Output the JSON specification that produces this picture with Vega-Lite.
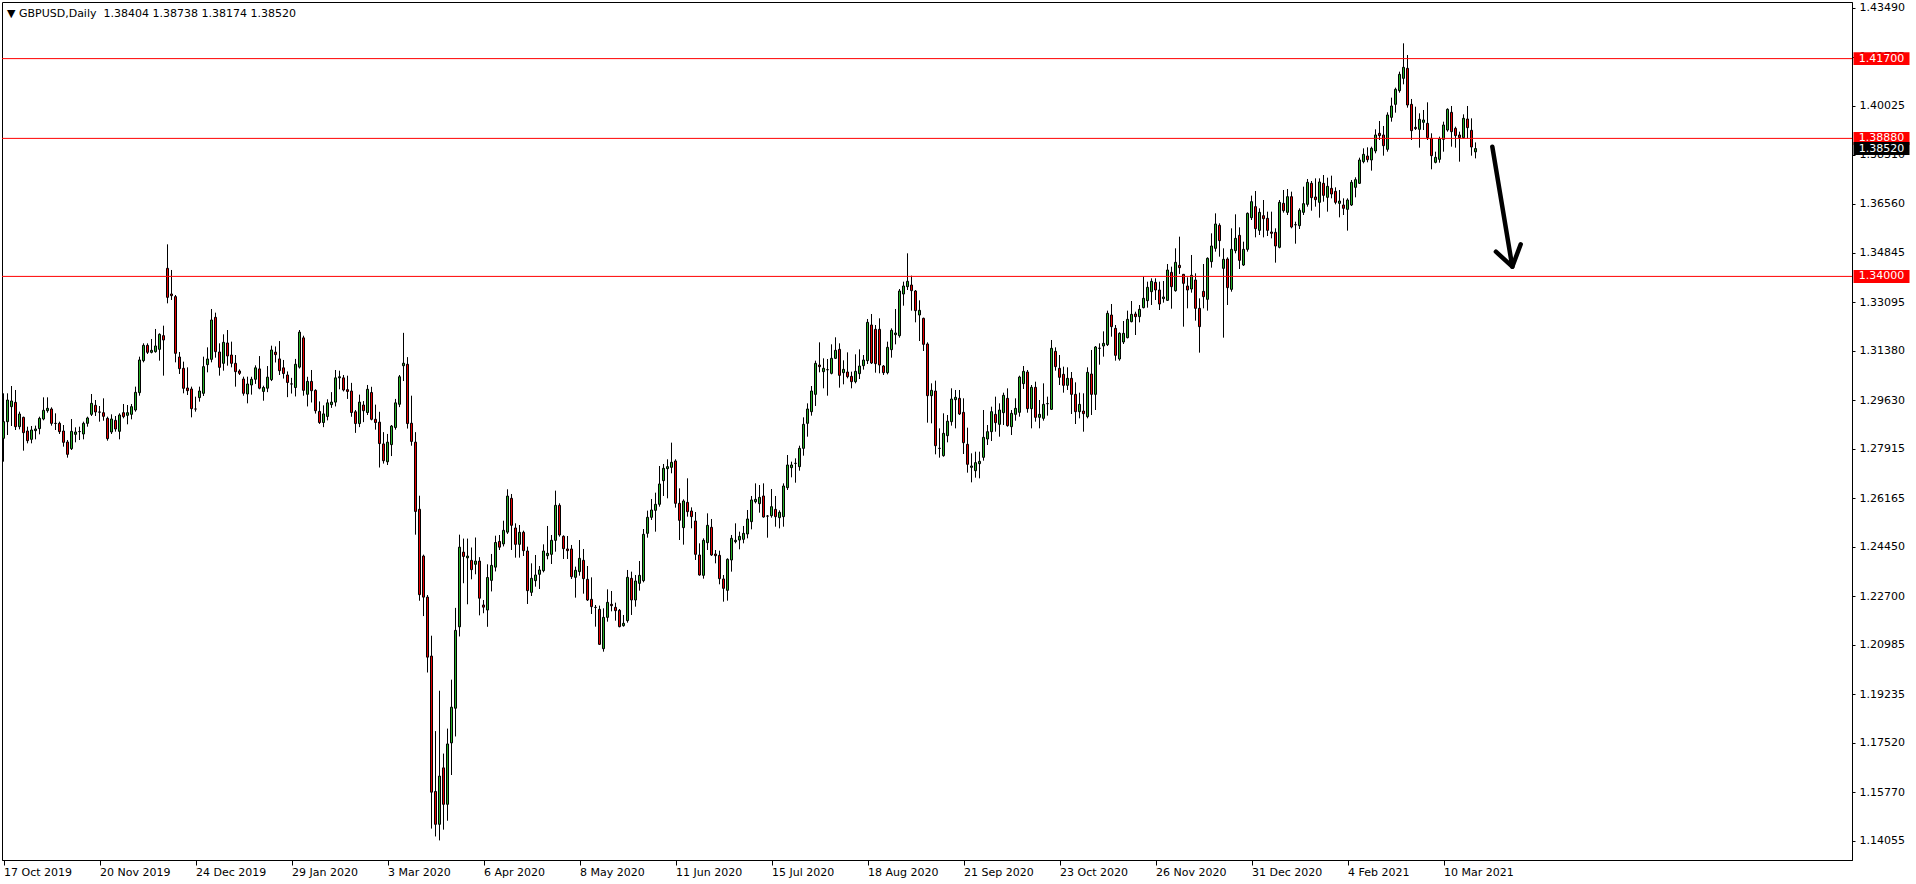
{
"$schema": "https://vega.github.io/schema/vega-lite/v6.json",
"width": 1850, "height": 858,
"autosize": {"type": "none"},
"padding": {"left": 2, "top": 2, "right": 64, "bottom": 24},
"background": "white",
"title": {"text": "▼ GBPUSD,Daily\u00a0 1.38404 1.38738 1.38174 1.38520", "anchor": "start", "frame": "group", "offset": -17, "dx": 5, "fontSize": 11, "font": "DejaVu Sans", "fontWeight": "normal", "color": "black"},
"config": {"view": {"stroke": "black", "strokeWidth": 1}, "font": "DejaVu Sans"},
"datasets": {
"bars": [
{"i":0,"o":1.28275,"h":1.29866,"l":1.2745,"c":1.28864},
{"i":1,"o":1.28864,"h":1.29866,"l":1.28393,"c":1.2963},
{"i":2,"o":1.29394,"h":1.30125,"l":1.28711,"c":1.29595},
{"i":3,"o":1.29548,"h":1.29984,"l":1.28569,"c":1.28687},
{"i":4,"o":1.28687,"h":1.29218,"l":1.28593,"c":1.29135},
{"i":5,"o":1.29017,"h":1.29041,"l":1.27839,"c":1.28475},
{"i":6,"o":1.28534,"h":1.28687,"l":1.28098,"c":1.28192},
{"i":7,"o":1.28239,"h":1.28711,"l":1.28098,"c":1.28569},
{"i":8,"o":1.28546,"h":1.28723,"l":1.28239,"c":1.28605},
{"i":9,"o":1.28617,"h":1.29041,"l":1.28416,"c":1.28982},
{"i":10,"o":1.28958,"h":1.29724,"l":1.28911,"c":1.29265},
{"i":11,"o":1.29253,"h":1.29724,"l":1.29182,"c":1.29336},
{"i":12,"o":1.29312,"h":1.29371,"l":1.28723,"c":1.28805},
{"i":13,"o":1.28805,"h":1.29159,"l":1.28569,"c":1.288},
{"i":14,"o":1.28805,"h":1.28864,"l":1.28428,"c":1.28511},
{"i":15,"o":1.28534,"h":1.28746,"l":1.2798,"c":1.28133},
{"i":16,"o":1.28145,"h":1.28216,"l":1.27591,"c":1.27709},
{"i":17,"o":1.27909,"h":1.28958,"l":1.27862,"c":1.28522},
{"i":18,"o":1.28416,"h":1.28664,"l":1.28133,"c":1.28499},
{"i":19,"o":1.28511,"h":1.28687,"l":1.28216,"c":1.28515},
{"i":20,"o":1.28428,"h":1.28864,"l":1.28239,"c":1.28805},
{"i":21,"o":1.28805,"h":1.29041,"l":1.28687,"c":1.28994},
{"i":22,"o":1.29123,"h":1.29842,"l":1.29064,"c":1.29512},
{"i":23,"o":1.29442,"h":1.2963,"l":1.29064,"c":1.29206},
{"i":24,"o":1.29206,"h":1.29418,"l":1.28864,"c":1.292},
{"i":25,"o":1.29182,"h":1.29689,"l":1.28899,"c":1.29053},
{"i":26,"o":1.28982,"h":1.29041,"l":1.28192,"c":1.28263},
{"i":27,"o":1.28499,"h":1.29123,"l":1.28428,"c":1.28958},
{"i":28,"o":1.28911,"h":1.29064,"l":1.28511,"c":1.28605},
{"i":29,"o":1.28522,"h":1.29159,"l":1.28239,"c":1.291},
{"i":30,"o":1.29182,"h":1.29489,"l":1.28982,"c":1.29041},
{"i":31,"o":1.29088,"h":1.29453,"l":1.2877,"c":1.29182},
{"i":32,"o":1.29123,"h":1.29489,"l":1.28947,"c":1.29394},
{"i":33,"o":1.29277,"h":1.30102,"l":1.29218,"c":1.29901},
{"i":34,"o":1.29889,"h":1.31162,"l":1.29783,"c":1.31045},
{"i":35,"o":1.31021,"h":1.31634,"l":1.30962,"c":1.31563},
{"i":36,"o":1.31563,"h":1.31634,"l":1.31257,"c":1.31316},
{"i":37,"o":1.31316,"h":1.31787,"l":1.3128,"c":1.31386},
{"i":38,"o":1.31339,"h":1.32141,"l":1.31304,"c":1.3154},
{"i":39,"o":1.31422,"h":1.31987,"l":1.31021,"c":1.31952},
{"i":40,"o":1.31905,"h":1.32258,"l":1.30491,"c":1.31752},
{"i":41,"o":1.34286,"h":1.35134,"l":1.33048,"c":1.3326},
{"i":42,"o":1.33378,"h":1.34227,"l":1.33166,"c":1.33319},
{"i":43,"o":1.33284,"h":1.33343,"l":1.30962,"c":1.3128},
{"i":44,"o":1.3115,"h":1.31327,"l":1.3055,"c":1.30738},
{"i":45,"o":1.3075,"h":1.30986,"l":1.29866,"c":1.30043},
{"i":46,"o":1.30055,"h":1.30785,"l":1.29807,"c":1.2996},
{"i":47,"o":1.30019,"h":1.30102,"l":1.29017,"c":1.29324},
{"i":48,"o":1.29312,"h":1.29748,"l":1.29218,"c":1.2931},
{"i":49,"o":1.29713,"h":1.30102,"l":1.29571,"c":1.29948},
{"i":50,"o":1.29866,"h":1.31162,"l":1.29772,"c":1.30809},
{"i":51,"o":1.3088,"h":1.31492,"l":1.30608,"c":1.3108},
{"i":52,"o":1.31068,"h":1.32848,"l":1.30962,"c":1.32459},
{"i":53,"o":1.32553,"h":1.32718,"l":1.31127,"c":1.31339},
{"i":54,"o":1.31327,"h":1.31634,"l":1.30491,"c":1.30785},
{"i":55,"o":1.30927,"h":1.31952,"l":1.30667,"c":1.31669},
{"i":56,"o":1.31646,"h":1.32105,"l":1.30844,"c":1.31186},
{"i":57,"o":1.31221,"h":1.31693,"l":1.30785,"c":1.30927},
{"i":58,"o":1.30927,"h":1.31221,"l":1.30102,"c":1.30632},
{"i":59,"o":1.30656,"h":1.30714,"l":1.30514,"c":1.30573},
{"i":60,"o":1.30373,"h":1.30455,"l":1.29783,"c":1.29866},
{"i":61,"o":1.29842,"h":1.30455,"l":1.29512,"c":1.30196},
{"i":62,"o":1.30161,"h":1.30451,"l":1.2982,"c":1.30363},
{"i":63,"o":1.30363,"h":1.30855,"l":1.30199,"c":1.30767},
{"i":64,"o":1.30729,"h":1.31183,"l":1.30009,"c":1.30047},
{"i":65,"o":1.29933,"h":1.30135,"l":1.29605,"c":1.30072},
{"i":66,"o":1.30047,"h":1.3083,"l":1.29908,"c":1.30438},
{"i":67,"o":1.3035,"h":1.3155,"l":1.303,"c":1.31398},
{"i":68,"o":1.31322,"h":1.31524,"l":1.30956,"c":1.31234},
{"i":69,"o":1.31082,"h":1.31714,"l":1.30514,"c":1.30666},
{"i":70,"o":1.30767,"h":1.31045,"l":1.30388,"c":1.30565},
{"i":71,"o":1.30514,"h":1.3064,"l":1.29731,"c":1.30249},
{"i":72,"o":1.30199,"h":1.30413,"l":1.29858,"c":1.30195},
{"i":73,"o":1.30072,"h":1.31082,"l":1.29756,"c":1.30893},
{"i":74,"o":1.30792,"h":1.32105,"l":1.30742,"c":1.32029},
{"i":75,"o":1.31827,"h":1.31903,"l":1.29782,"c":1.29971},
{"i":76,"o":1.29832,"h":1.30451,"l":1.29403,"c":1.30287},
{"i":77,"o":1.30287,"h":1.30691,"l":1.29542,"c":1.29958},
{"i":78,"o":1.29971,"h":1.30009,"l":1.2915,"c":1.29251},
{"i":79,"o":1.29226,"h":1.2958,"l":1.28784,"c":1.28834},
{"i":80,"o":1.28834,"h":1.29441,"l":1.2867,"c":1.29138},
{"i":81,"o":1.29049,"h":1.29656,"l":1.2891,"c":1.29529},
{"i":82,"o":1.29466,"h":1.29908,"l":1.29352,"c":1.29555},
{"i":83,"o":1.29555,"h":1.30691,"l":1.29403,"c":1.30413},
{"i":84,"o":1.30413,"h":1.30666,"l":1.30009,"c":1.30451},
{"i":85,"o":1.30413,"h":1.30514,"l":1.29933,"c":1.29984},
{"i":86,"o":1.29996,"h":1.30489,"l":1.29668,"c":1.29933},
{"i":87,"o":1.29946,"h":1.30236,"l":1.29037,"c":1.29188},
{"i":88,"o":1.29213,"h":1.29277,"l":1.28468,"c":1.28797},
{"i":89,"o":1.28797,"h":1.2982,"l":1.2867,"c":1.29555},
{"i":90,"o":1.29453,"h":1.29592,"l":1.28847,"c":1.29251},
{"i":91,"o":1.29188,"h":1.30161,"l":1.291,"c":1.30009},
{"i":92,"o":1.29895,"h":1.30097,"l":1.2891,"c":1.28948},
{"i":93,"o":1.28948,"h":1.29466,"l":1.28582,"c":1.28834},
{"i":94,"o":1.28847,"h":1.29213,"l":1.27243,"c":1.2809},
{"i":95,"o":1.28077,"h":1.28494,"l":1.27382,"c":1.27483},
{"i":96,"o":1.27446,"h":1.2843,"l":1.27332,"c":1.2814},
{"i":97,"o":1.28052,"h":1.28746,"l":1.27648,"c":1.28708},
{"i":98,"o":1.28658,"h":1.29668,"l":1.28582,"c":1.29529},
{"i":99,"o":1.29479,"h":1.30514,"l":1.29378,"c":1.30451},
{"i":100,"o":1.30842,"h":1.32004,"l":1.303,"c":1.30931},
{"i":101,"o":1.30893,"h":1.31146,"l":1.2862,"c":1.28797},
{"i":102,"o":1.28809,"h":1.29782,"l":1.28014,"c":1.28165},
{"i":103,"o":1.2814,"h":1.28494,"l":1.24869,"c":1.2569},
{"i":104,"o":1.25766,"h":1.26246,"l":1.22533,"c":1.22748},
{"i":105,"o":1.24112,"h":1.24162,"l":1.2199,"c":1.2266},
{"i":106,"o":1.2266,"h":1.22735,"l":1.19995,"c":1.20538},
{"i":107,"o":1.20576,"h":1.21296,"l":1.14476,"c":1.15764},
{"i":108,"o":1.15789,"h":1.17924,"l":1.14198,"c":1.14628},
{"i":109,"o":1.14628,"h":1.19351,"l":1.14059,"c":1.16333},
{"i":110,"o":1.16623,"h":1.17129,"l":1.14439,"c":1.15335},
{"i":111,"o":1.15335,"h":1.18012,"l":1.14754,"c":1.17469},
{"i":112,"o":1.17507,"h":1.19742,"l":1.16371,"c":1.1877},
{"i":113,"o":1.18732,"h":1.2228,"l":1.17734,"c":1.21485},
{"i":114,"o":1.21611,"h":1.24869,"l":1.2127,"c":1.24427},
{"i":115,"o":1.24251,"h":1.2473,"l":1.23152,"c":1.24099},
{"i":116,"o":1.24049,"h":1.2473,"l":1.22407,"c":1.24112},
{"i":117,"o":1.2396,"h":1.24415,"l":1.23291,"c":1.23632},
{"i":118,"o":1.23821,"h":1.24768,"l":1.23467,"c":1.23935},
{"i":119,"o":1.23935,"h":1.24074,"l":1.22016,"c":1.22622},
{"i":120,"o":1.22382,"h":1.22558,"l":1.22091,"c":1.22306},
{"i":121,"o":1.22205,"h":1.23821,"l":1.21611,"c":1.23354},
{"i":122,"o":1.23253,"h":1.24187,"l":1.22862,"c":1.23783},
{"i":123,"o":1.2372,"h":1.24832,"l":1.23569,"c":1.24592},
{"i":124,"o":1.2463,"h":1.24857,"l":1.24326,"c":1.24427},
{"i":125,"o":1.24541,"h":1.25362,"l":1.24453,"c":1.25021},
{"i":126,"o":1.24958,"h":1.26473,"l":1.24895,"c":1.26233},
{"i":127,"o":1.26154,"h":1.26307,"l":1.24327,"c":1.25199},
{"i":128,"o":1.25105,"h":1.2527,"l":1.24056,"c":1.24527},
{"i":129,"o":1.24527,"h":1.25211,"l":1.24056,"c":1.24952},
{"i":130,"o":1.24952,"h":1.2501,"l":1.24115,"c":1.24303},
{"i":131,"o":1.24291,"h":1.24445,"l":1.22418,"c":1.22889},
{"i":132,"o":1.2283,"h":1.23855,"l":1.227,"c":1.23325},
{"i":133,"o":1.23243,"h":1.2415,"l":1.2303,"c":1.23443},
{"i":134,"o":1.23467,"h":1.23761,"l":1.22948,"c":1.2362},
{"i":135,"o":1.23596,"h":1.24527,"l":1.23537,"c":1.24291},
{"i":136,"o":1.24126,"h":1.25176,"l":1.23997,"c":1.24209},
{"i":137,"o":1.24174,"h":1.24857,"l":1.23832,"c":1.24669},
{"i":138,"o":1.24669,"h":1.26425,"l":1.24268,"c":1.25906},
{"i":139,"o":1.25906,"h":1.25977,"l":1.24798,"c":1.24857},
{"i":140,"o":1.2481,"h":1.24845,"l":1.24009,"c":1.24374},
{"i":141,"o":1.24362,"h":1.24822,"l":1.24009,"c":1.24303},
{"i":142,"o":1.24362,"h":1.24504,"l":1.23302,"c":1.23384},
{"i":143,"o":1.2336,"h":1.23738,"l":1.22642,"c":1.23608},
{"i":144,"o":1.23561,"h":1.2468,"l":1.23419,"c":1.24032},
{"i":145,"o":1.23962,"h":1.24362,"l":1.22783,"c":1.23313},
{"i":146,"o":1.2329,"h":1.23761,"l":1.22524,"c":1.22559},
{"i":147,"o":1.22583,"h":1.2336,"l":1.22064,"c":1.22323},
{"i":148,"o":1.223,"h":1.22382,"l":1.21616,"c":1.22295},
{"i":149,"o":1.22229,"h":1.22359,"l":1.20968,"c":1.20991},
{"i":150,"o":1.20838,"h":1.22264,"l":1.20732,"c":1.21946},
{"i":151,"o":1.21946,"h":1.22936,"l":1.21793,"c":1.22476},
{"i":152,"o":1.22406,"h":1.22877,"l":1.22158,"c":1.22359},
{"i":153,"o":1.223,"h":1.22465,"l":1.21828,"c":1.22182},
{"i":154,"o":1.22194,"h":1.22241,"l":1.21593,"c":1.21616},
{"i":155,"o":1.21651,"h":1.22029,"l":1.21616,"c":1.21734},
{"i":156,"o":1.21828,"h":1.2362,"l":1.21757,"c":1.2336},
{"i":157,"o":1.23325,"h":1.23561,"l":1.22029,"c":1.22559},
{"i":158,"o":1.22559,"h":1.23443,"l":1.22323,"c":1.23231},
{"i":159,"o":1.23148,"h":1.23938,"l":1.22889,"c":1.23431},
{"i":160,"o":1.23243,"h":1.25069,"l":1.23184,"c":1.24881},
{"i":161,"o":1.24916,"h":1.25718,"l":1.24763,"c":1.25482},
{"i":162,"o":1.25482,"h":1.2613,"l":1.25388,"c":1.25741},
{"i":163,"o":1.2573,"h":1.26354,"l":1.24975,"c":1.25942},
{"i":164,"o":1.25942,"h":1.27297,"l":1.25859,"c":1.26661},
{"i":165,"o":1.26778,"h":1.27368,"l":1.26236,"c":1.27215},
{"i":166,"o":1.27203,"h":1.27533,"l":1.26154,"c":1.27273},
{"i":167,"o":1.2725,"h":1.28122,"l":1.27038,"c":1.27427},
{"i":168,"o":1.27474,"h":1.27533,"l":1.25824,"c":1.25977},
{"i":169,"o":1.25977,"h":1.26507,"l":1.2468,"c":1.25376},
{"i":170,"o":1.25117,"h":1.26118,"l":1.24515,"c":1.2606},
{"i":171,"o":1.26012,"h":1.26861,"l":1.25506,"c":1.25682},
{"i":172,"o":1.25706,"h":1.25835,"l":1.25093,"c":1.25506},
{"i":173,"o":1.25352,"h":1.2567,"l":1.23974,"c":1.24174},
{"i":174,"o":1.2415,"h":1.24563,"l":1.23419,"c":1.23443},
{"i":175,"o":1.23431,"h":1.24739,"l":1.23313,"c":1.24669},
{"i":176,"o":1.24586,"h":1.25623,"l":1.24327,"c":1.25199},
{"i":177,"o":1.25129,"h":1.25423,"l":1.24115,"c":1.2415},
{"i":178,"o":1.24185,"h":1.24327,"l":1.23855,"c":1.24126},
{"i":179,"o":1.24138,"h":1.24303,"l":1.23113,"c":1.23313},
{"i":180,"o":1.23302,"h":1.23443,"l":1.225,"c":1.22971},
{"i":181,"o":1.22901,"h":1.24032,"l":1.22535,"c":1.23997},
{"i":182,"o":1.23974,"h":1.24857,"l":1.23561,"c":1.24739},
{"i":183,"o":1.24622,"h":1.2527,"l":1.24563,"c":1.24669},
{"i":184,"o":1.2468,"h":1.24975,"l":1.2435,"c":1.2481},
{"i":185,"o":1.24704,"h":1.25176,"l":1.24563,"c":1.24916},
{"i":186,"o":1.24893,"h":1.25741,"l":1.24739,"c":1.25423},
{"i":187,"o":1.25329,"h":1.26236,"l":1.25058,"c":1.26095},
{"i":188,"o":1.26035,"h":1.26683,"l":1.25976,"c":1.26118},
{"i":189,"o":1.25965,"h":1.26625,"l":1.25646,"c":1.26188},
{"i":190,"o":1.26236,"h":1.26683,"l":1.2547,"c":1.25493},
{"i":191,"o":1.25528,"h":1.25564,"l":1.24762,"c":1.25525},
{"i":192,"o":1.2554,"h":1.26483,"l":1.2547,"c":1.25858},
{"i":193,"o":1.25764,"h":1.26236,"l":1.25151,"c":1.25505},
{"i":194,"o":1.2547,"h":1.25729,"l":1.25092,"c":1.25658},
{"i":195,"o":1.25505,"h":1.26683,"l":1.25151,"c":1.26589},
{"i":196,"o":1.2653,"h":1.27685,"l":1.26448,"c":1.27332},
{"i":197,"o":1.27238,"h":1.2745,"l":1.26896,"c":1.27332},
{"i":198,"o":1.27391,"h":1.27567,"l":1.26707,"c":1.27388},
{"i":199,"o":1.27273,"h":1.28015,"l":1.27131,"c":1.27921},
{"i":200,"o":1.27921,"h":1.29017,"l":1.27662,"c":1.2877},
{"i":201,"o":1.28805,"h":1.29512,"l":1.28333,"c":1.29312},
{"i":202,"o":1.29217,"h":1.30125,"l":1.29076,"c":1.29948},
{"i":203,"o":1.2983,"h":1.31021,"l":1.29418,"c":1.30926},
{"i":204,"o":1.30867,"h":1.31669,"l":1.30608,"c":1.30809},
{"i":205,"o":1.30632,"h":1.31103,"l":1.30043,"c":1.3075},
{"i":206,"o":1.30703,"h":1.31079,"l":1.29783,"c":1.307},
{"i":207,"o":1.30573,"h":1.31598,"l":1.30537,"c":1.31103},
{"i":208,"o":1.31103,"h":1.31846,"l":1.31079,"c":1.31386},
{"i":209,"o":1.31421,"h":1.31634,"l":1.30066,"c":1.30502},
{"i":210,"o":1.30596,"h":1.31033,"l":1.30184,"c":1.30714},
{"i":211,"o":1.3062,"h":1.31315,"l":1.30396,"c":1.30455},
{"i":212,"o":1.30467,"h":1.30632,"l":1.30043,"c":1.30278},
{"i":213,"o":1.30278,"h":1.31245,"l":1.30219,"c":1.30644},
{"i":214,"o":1.30561,"h":1.31421,"l":1.30372,"c":1.30832},
{"i":215,"o":1.30844,"h":1.31221,"l":1.30703,"c":1.31044},
{"i":216,"o":1.31021,"h":1.32494,"l":1.30903,"c":1.32376},
{"i":217,"o":1.32282,"h":1.32671,"l":1.30903,"c":1.30938},
{"i":218,"o":1.32129,"h":1.32282,"l":1.30596,"c":1.30915},
{"i":219,"o":1.32129,"h":1.32518,"l":1.30573,"c":1.30867},
{"i":220,"o":1.30832,"h":1.30867,"l":1.30514,"c":1.30596},
{"i":221,"o":1.30596,"h":1.31693,"l":1.30537,"c":1.31492},
{"i":222,"o":1.3141,"h":1.32164,"l":1.31127,"c":1.32093},
{"i":223,"o":1.3194,"h":1.32848,"l":1.31598,"c":1.31999},
{"i":224,"o":1.31905,"h":1.33555,"l":1.31834,"c":1.33484},
{"i":225,"o":1.33378,"h":1.33814,"l":1.32965,"c":1.33661},
{"i":226,"o":1.33637,"h":1.34816,"l":1.33519,"c":1.33826},
{"i":227,"o":1.33696,"h":1.34026,"l":1.32789,"c":1.33496},
{"i":228,"o":1.33484,"h":1.33519,"l":1.32376,"c":1.32789},
{"i":229,"o":1.32636,"h":1.33154,"l":1.31716,"c":1.32801},
{"i":230,"o":1.32518,"h":1.32541,"l":1.31363,"c":1.31598},
{"i":231,"o":1.3161,"h":1.31669,"l":1.28829,"c":1.29783},
{"i":232,"o":1.29783,"h":1.30219,"l":1.28805,"c":1.29972},
{"i":233,"o":1.29948,"h":1.30314,"l":1.27709,"c":1.28015},
{"i":234,"o":1.27921,"h":1.28628,"l":1.27591,"c":1.27918},
{"i":235,"o":1.27662,"h":1.29159,"l":1.27626,"c":1.28452},
{"i":236,"o":1.28369,"h":1.291,"l":1.28133,"c":1.28881},
{"i":237,"o":1.28864,"h":1.30043,"l":1.28723,"c":1.29665},
{"i":238,"o":1.29642,"h":1.29984,"l":1.28628,"c":1.29724},
{"i":239,"o":1.29689,"h":1.29984,"l":1.291,"c":1.29135},
{"i":240,"o":1.29194,"h":1.29689,"l":1.27721,"c":1.28121},
{"i":241,"o":1.28063,"h":1.28652,"l":1.27061,"c":1.27356},
{"i":242,"o":1.27249,"h":1.27744,"l":1.26719,"c":1.27297},
{"i":243,"o":1.27131,"h":1.27803,"l":1.26884,"c":1.27415},
{"i":244,"o":1.27379,"h":1.27803,"l":1.2686,"c":1.27462},
{"i":245,"o":1.27603,"h":1.29276,"l":1.27485,"c":1.2831},
{"i":246,"o":1.28251,"h":1.28746,"l":1.28039,"c":1.2851},
{"i":247,"o":1.2851,"h":1.29394,"l":1.2818,"c":1.29217},
{"i":248,"o":1.29123,"h":1.29748,"l":1.2851,"c":1.28829},
{"i":249,"o":1.2877,"h":1.29512,"l":1.28333,"c":1.29276},
{"i":250,"o":1.29182,"h":1.29889,"l":1.28746,"c":1.29795},
{"i":251,"o":1.29689,"h":1.30042,"l":1.28687,"c":1.28722},
{"i":252,"o":1.28687,"h":1.29276,"l":1.28392,"c":1.29158},
{"i":253,"o":1.29123,"h":1.29689,"l":1.28899,"c":1.29335},
{"i":254,"o":1.29194,"h":1.3049,"l":1.29041,"c":1.30443},
{"i":255,"o":1.30208,"h":1.30832,"l":1.30019,"c":1.30644},
{"i":256,"o":1.3062,"h":1.30691,"l":1.29182,"c":1.29324},
{"i":257,"o":1.29324,"h":1.3016,"l":1.28628,"c":1.30078},
{"i":258,"o":1.30078,"h":1.30278,"l":1.28864,"c":1.29017},
{"i":259,"o":1.29017,"h":1.2963,"l":1.28628,"c":1.29123},
{"i":260,"o":1.28982,"h":1.30219,"l":1.28899,"c":1.29476},
{"i":261,"o":1.295,"h":1.29748,"l":1.29076,"c":1.29503},
{"i":262,"o":1.293,"h":1.31752,"l":1.29276,"c":1.31457},
{"i":263,"o":1.31351,"h":1.31492,"l":1.30667,"c":1.30809},
{"i":264,"o":1.3075,"h":1.31221,"l":1.3016,"c":1.30432},
{"i":265,"o":1.30538,"h":1.30809,"l":1.29889,"c":1.30149},
{"i":266,"o":1.30149,"h":1.30785,"l":1.29984,"c":1.30396},
{"i":267,"o":1.30396,"h":1.3062,"l":1.29135,"c":1.2983},
{"i":268,"o":1.2983,"h":1.30255,"l":1.28781,"c":1.29217},
{"i":269,"o":1.29217,"h":1.29889,"l":1.28982,"c":1.29476},
{"i":270,"o":1.29241,"h":1.29866,"l":1.2851,"c":1.29147},
{"i":271,"o":1.29041,"h":1.30785,"l":1.28982,"c":1.30608},
{"i":272,"o":1.30549,"h":1.31398,"l":1.291,"c":1.2983},
{"i":273,"o":1.2983,"h":1.31539,"l":1.29276,"c":1.31504},
{"i":274,"o":1.31457,"h":1.31634,"l":1.30879,"c":1.3146},
{"i":275,"o":1.31539,"h":1.32058,"l":1.31162,"c":1.31634},
{"i":276,"o":1.31587,"h":1.32789,"l":1.31539,"c":1.32694},
{"i":277,"o":1.32635,"h":1.33024,"l":1.31869,"c":1.32223},
{"i":278,"o":1.32164,"h":1.32282,"l":1.31021,"c":1.31209},
{"i":279,"o":1.3108,"h":1.32023,"l":1.31021,"c":1.31987},
{"i":280,"o":1.31681,"h":1.32423,"l":1.3161,"c":1.31987},
{"i":281,"o":1.31834,"h":1.32789,"l":1.3181,"c":1.32482},
{"i":282,"o":1.324,"h":1.3313,"l":1.32376,"c":1.32659},
{"i":283,"o":1.32671,"h":1.32753,"l":1.31928,"c":1.32577},
{"i":284,"o":1.32577,"h":1.32989,"l":1.32376,"c":1.32836},
{"i":285,"o":1.32895,"h":1.33991,"l":1.32871,"c":1.33225},
{"i":286,"o":1.33142,"h":1.33814,"l":1.32895,"c":1.33614},
{"i":287,"o":1.3346,"h":1.33932,"l":1.32989,"c":1.33826},
{"i":288,"o":1.3379,"h":1.33932,"l":1.33166,"c":1.33519},
{"i":289,"o":1.33519,"h":1.33814,"l":1.32812,"c":1.33024},
{"i":290,"o":1.33213,"h":1.33838,"l":1.33072,"c":1.33272},
{"i":291,"o":1.33154,"h":1.34439,"l":1.3313,"c":1.34226},
{"i":292,"o":1.34144,"h":1.34344,"l":1.32859,"c":1.33637},
{"i":293,"o":1.33496,"h":1.34993,"l":1.3346,"c":1.34498},
{"i":294,"o":1.34392,"h":1.35405,"l":1.34085,"c":1.34309},
{"i":295,"o":1.34073,"h":1.34085,"l":1.32223,"c":1.33755},
{"i":296,"o":1.33661,"h":1.33967,"l":1.32871,"c":1.33519},
{"i":297,"o":1.33555,"h":1.34757,"l":1.33425,"c":1.34038},
{"i":298,"o":1.33873,"h":1.34109,"l":1.32435,"c":1.32871},
{"i":299,"o":1.32871,"h":1.33225,"l":1.31304,"c":1.32223},
{"i":300,"o":1.33472,"h":1.34439,"l":1.32871,"c":1.33284},
{"i":301,"o":1.3319,"h":1.34674,"l":1.32789,"c":1.34639},
{"i":302,"o":1.34521,"h":1.35523,"l":1.34309,"c":1.35075},
{"i":303,"o":1.34993,"h":1.3623,"l":1.34875,"c":1.35853},
{"i":304,"o":1.35806,"h":1.35877,"l":1.34698,"c":1.35264},
{"i":305,"o":1.34285,"h":1.34993,"l":1.31834,"c":1.34604},
{"i":306,"o":1.34615,"h":1.34674,"l":1.32989,"c":1.33602},
{"i":307,"o":1.33543,"h":1.357,"l":1.3346,"c":1.34957},
{"i":308,"o":1.3491,"h":1.36195,"l":1.34816,"c":1.35346},
{"i":309,"o":1.35452,"h":1.35735,"l":1.34262,"c":1.34568},
{"i":310,"o":1.34403,"h":1.35228,"l":1.34368,"c":1.34957},
{"i":311,"o":1.34957,"h":1.3626,"l":1.34875,"c":1.3623},
{"i":312,"o":1.36077,"h":1.36855,"l":1.35994,"c":1.36642},
{"i":313,"o":1.36466,"h":1.3702,"l":1.35381,"c":1.35688},
{"i":314,"o":1.35629,"h":1.36407,"l":1.35464,"c":1.36265},
{"i":315,"o":1.36147,"h":1.36701,"l":1.35381,"c":1.36041},
{"i":316,"o":1.36053,"h":1.36289,"l":1.35428,"c":1.35629},
{"i":317,"o":1.3557,"h":1.36289,"l":1.35346,"c":1.35523},
{"i":318,"o":1.35558,"h":1.357,"l":1.34486,"c":1.35075},
{"i":319,"o":1.35028,"h":1.36701,"l":1.34992,"c":1.36619},
{"i":320,"o":1.36584,"h":1.37055,"l":1.36254,"c":1.36324},
{"i":321,"o":1.36265,"h":1.3709,"l":1.36171,"c":1.36819},
{"i":322,"o":1.36819,"h":1.36996,"l":1.357,"c":1.35747},
{"i":323,"o":1.35829,"h":1.35935,"l":1.35157,"c":1.35826},
{"i":324,"o":1.35794,"h":1.36407,"l":1.35676,"c":1.36336},
{"i":325,"o":1.36265,"h":1.37173,"l":1.36171,"c":1.36572},
{"i":326,"o":1.36548,"h":1.37444,"l":1.36466,"c":1.37326},
{"i":327,"o":1.37291,"h":1.37373,"l":1.36324,"c":1.36784},
{"i":328,"o":1.36808,"h":1.37467,"l":1.36466,"c":1.36713},
{"i":329,"o":1.36619,"h":1.37467,"l":1.36077,"c":1.37338},
{"i":330,"o":1.37291,"h":1.37585,"l":1.36642,"c":1.36866},
{"i":331,"o":1.36796,"h":1.37491,"l":1.36289,"c":1.37185},
{"i":332,"o":1.37114,"h":1.37562,"l":1.3676,"c":1.36914},
{"i":333,"o":1.37008,"h":1.37149,"l":1.36548,"c":1.36619},
{"i":334,"o":1.36584,"h":1.37055,"l":1.36088,"c":1.36666},
{"i":335,"o":1.36525,"h":1.3676,"l":1.36171,"c":1.36407},
{"i":336,"o":1.36371,"h":1.3676,"l":1.35617,"c":1.36701},
{"i":337,"o":1.36525,"h":1.37409,"l":1.36489,"c":1.37326},
{"i":338,"o":1.37149,"h":1.37503,"l":1.36796,"c":1.3742},
{"i":339,"o":1.37291,"h":1.38198,"l":1.37267,"c":1.38116},
{"i":340,"o":1.38057,"h":1.38528,"l":1.37998,"c":1.38316},
{"i":341,"o":1.38257,"h":1.38564,"l":1.38033,"c":1.38127},
{"i":342,"o":1.38116,"h":1.38587,"l":1.37739,"c":1.38528},
{"i":343,"o":1.38434,"h":1.392,"l":1.38351,"c":1.39},
{"i":344,"o":1.39059,"h":1.39495,"l":1.38823,"c":1.38976},
{"i":345,"o":1.39,"h":1.39318,"l":1.38269,"c":1.38622},
{"i":346,"o":1.38493,"h":1.39801,"l":1.3841,"c":1.39707},
{"i":347,"o":1.39624,"h":1.4032,"l":1.39471,"c":1.40025},
{"i":348,"o":1.40084,"h":1.40673,"l":1.39789,"c":1.40614},
{"i":349,"o":1.40567,"h":1.41239,"l":1.40496,"c":1.41145},
{"i":350,"o":1.41003,"h":1.42241,"l":1.40791,"c":1.41392},
{"i":351,"o":1.41357,"h":1.41828,"l":1.39966,"c":1.4006},
{"i":352,"o":1.40084,"h":1.40273,"l":1.38823,"c":1.39153},
{"i":353,"o":1.39271,"h":1.40001,"l":1.39176,"c":1.39224},
{"i":354,"o":1.392,"h":1.39766,"l":1.38552,"c":1.39554},
{"i":355,"o":1.39448,"h":1.39884,"l":1.39176,"c":1.3953},
{"i":356,"o":1.39412,"h":1.40155,"l":1.38823,"c":1.38905},
{"i":357,"o":1.38882,"h":1.39059,"l":1.37786,"c":1.38269},
{"i":358,"o":1.38033,"h":1.3841,"l":1.37998,"c":1.3821},
{"i":359,"o":1.38139,"h":1.38941,"l":1.38021,"c":1.38858},
{"i":360,"o":1.38846,"h":1.39471,"l":1.3841,"c":1.39353},
{"i":361,"o":1.39176,"h":1.39943,"l":1.39117,"c":1.39907},
{"i":362,"o":1.39801,"h":1.40025,"l":1.38587,"c":1.39117},
{"i":363,"o":1.39235,"h":1.39294,"l":1.38552,"c":1.38976},
{"i":364,"o":1.39,"h":1.39117,"l":1.38057,"c":1.38905},
{"i":365,"o":1.38905,"h":1.3973,"l":1.38882,"c":1.39589},
{"i":366,"o":1.39565,"h":1.40025,"l":1.38882,"c":1.39259},
{"i":367,"o":1.39165,"h":1.39589,"l":1.38269,"c":1.38575},
{"i":368,"o":1.38404,"h":1.38738,"l":1.38174,"c":1.3852}
],
"tags": [
{"p":1.417,"label":"1.41700","kind":"level"},
{"p":1.3888,"label":"1.38880","kind":"level"},
{"p":1.34,"label":"1.34000","kind":"level"},
{"p":1.3852,"label":"1.38520","kind":"price"}
],
"arrow": [
{"seg":"s","n":0,"x":372.2,"y":1.38586},
{"seg":"s","n":1,"x":377.2,"y":1.34343},
{"seg":"h","n":0,"x":373.1,"y":1.34874},
{"seg":"h","n":1,"x":377.2,"y":1.34343},
{"seg":"h","n":2,"x":379.3,"y":1.35135}
]
},
"layer": [
{"data": {"name": "bars"},
 "mark": {"type": "rule", "color": "black", "strokeWidth": 1},
 "encoding": {
  "x": {"field": "i", "type": "quantitative",
        "scale": {"domain": [-0.375, 462.125], "nice": false, "zero": false, "padding": 0},
        "axis": {"orient": "bottom", "values": [0,24,48,72,96,120,144,168,192,216,240,264,288,312,336,360],
                 "labelExpr": "['17 Oct 2019','20 Nov 2019','24 Dec 2019','29 Jan 2020','3 Mar 2020','6 Apr 2020','8 May 2020','11 Jun 2020','15 Jul 2020','18 Aug 2020','21 Sep 2020','23 Oct 2020','26 Nov 2020','31 Dec 2020','4 Feb 2021','10 Mar 2021'][round(datum.value/24)]",
                 "title": null, "grid": false, "tickSize": 5, "tickColor": "black", "domainColor": "black",
                 "labelAlign": "left", "labelBaseline": "top", "labelPadding": 1, "labelFont": "DejaVu Sans",
                 "labelFontSize": 11, "labelColor": "black", "labelOverlap": false, "labelFlush": false, "labelBound": false}},
  "y": {"field": "l", "type": "quantitative",
        "scale": {"domain": [1.13366, 1.43702], "nice": false, "zero": false, "padding": 0},
        "axis": {"orient": "right", "values": [1.4349,1.41775,1.40025,1.3831,1.3656,1.34845,1.33095,1.3138,1.2963,1.27915,1.26165,1.2445,1.227,1.20985,1.19235,1.1752,1.1577,1.14055],
                 "format": ".5f", "title": null, "grid": false, "tickSize": 3, "tickColor": "black", "domainColor": "black",
                 "labelPadding": 4, "labelFont": "DejaVu Sans", "labelFontSize": 11, "labelColor": "black",
                 "labelOverlap": false, "labelFlush": false, "labelBound": false}},
  "y2": {"field": "h"}
 }},
{"data": {"name": "bars"},
 "mark": {"type": "bar", "size": 2, "stroke": "black", "strokeWidth": 1},
 "encoding": {
  "x": {"field": "i", "type": "quantitative"},
  "y": {"field": "o", "type": "quantitative"},
  "y2": {"field": "c"},
  "fill": {"condition": {"test": "datum.c >= datum.o", "value": "#26AE26"}, "value": "#E60000"}
 }},
{"data": {"name": "tags"},
 "transform": [{"filter": "datum.kind == 'level'"}],
 "mark": {"type": "rule", "color": "#FF0000", "strokeWidth": 1},
 "encoding": {"y": {"field": "p", "type": "quantitative"}}},
{"data": {"name": "arrow"},
 "mark": {"type": "line", "color": "black", "strokeWidth": 4.5, "strokeCap": "round", "strokeJoin": "round"},
 "encoding": {
  "x": {"field": "x", "type": "quantitative"},
  "y": {"field": "y", "type": "quantitative"},
  "detail": {"field": "seg"},
  "order": {"field": "n"}
 }},
{"data": {"name": "tags"},
 "mark": {"type": "point", "shape": "M-1,-0.232H1V0.232H-1Z", "size": 3136, "filled": true, "opacity": 1, "strokeWidth": 0},
 "encoding": {
  "x": {"datum": 469.5},
  "y": {"field": "p", "type": "quantitative"},
  "fill": {"condition": {"test": "datum.kind == 'price'", "value": "black"}, "value": "#FF0000"}
 }},
{"data": {"name": "tags"},
 "mark": {"type": "text", "color": "white", "fontSize": 11, "font": "DejaVu Sans", "align": "center", "baseline": "middle"},
 "encoding": {
  "x": {"datum": 469.5},
  "y": {"field": "p", "type": "quantitative"},
  "text": {"field": "label"}
 }}
]
}
